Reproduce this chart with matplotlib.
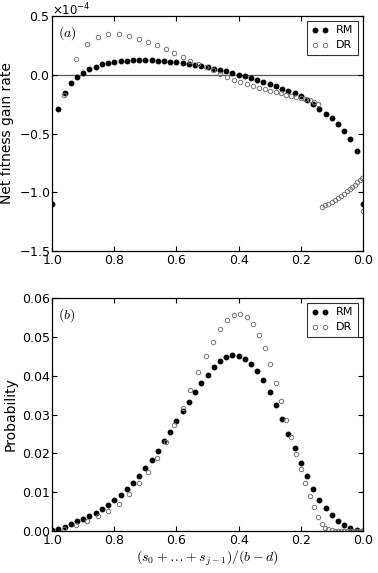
import numpy as np
import matplotlib
matplotlib.use('Agg')
import matplotlib.pyplot as plt
from matplotlib.ticker import ScalarFormatter, MultipleLocator

# ##############################################################################
# data
# RM: evenly spaced grid in (s_0+...+s_{j-1})/(b-d)
rm_x = [1.00, 0.98, 0.96, 0.94, 0.92, 0.90, 0.88, 0.86, 0.84, 0.82,
        0.80, 0.78, 0.76, 0.74, 0.72, 0.70, 0.68, 0.66, 0.64, 0.62,
        0.60, 0.58, 0.56, 0.54, 0.52, 0.50, 0.48, 0.46, 0.44, 0.42,
        0.40, 0.38, 0.36, 0.34, 0.32, 0.30, 0.28, 0.26, 0.24, 0.22,
        0.20, 0.18, 0.16, 0.14, 0.12, 0.10, 0.08, 0.06, 0.04, 0.02, 0.00]

# net fitness gain rate, units of 1e-4
rm_rate = [-1.10, -0.29, -0.152, -0.074, -0.020, 0.018, 0.046, 0.070, 0.088, 0.100,
           0.108, 0.114, 0.119, 0.122, 0.123, 0.123, 0.122, 0.120, 0.116, 0.112,
           0.106, 0.099, 0.091, 0.083, 0.073, 0.062, 0.051, 0.040, 0.028, 0.016,
           0.002, -0.013, -0.028, -0.045, -0.062, -0.079, -0.098, -0.117, -0.136, -0.157,
           -0.182, -0.212, -0.250, -0.290, -0.333, -0.370, -0.418, -0.475, -0.548, -0.649, -1.10]

rm_prob = [0.0002, 0.0005, 0.0011, 0.0018, 0.0025, 0.0031, 0.0039, 0.0047, 0.0056, 0.0066,
           0.0080, 0.0092, 0.0108, 0.0124, 0.0142, 0.0163, 0.0184, 0.0207, 0.0231, 0.0254,
           0.0282, 0.0308, 0.0333, 0.0358, 0.0381, 0.0403, 0.0422, 0.0437, 0.0447, 0.0452,
           0.0451, 0.0444, 0.0431, 0.0412, 0.0388, 0.0358, 0.0325, 0.0289, 0.0250, 0.0213,
           0.0175, 0.0141, 0.0108, 0.0081, 0.0058, 0.0040, 0.0025, 0.0015, 0.0008, 0.0003, 0.0001]

# DR: uneven grid
dr_x = [0.961, 0.924, 0.887, 0.853, 0.819, 0.785, 0.754, 0.721, 0.692, 0.663,
        0.635, 0.607, 0.580, 0.555, 0.530, 0.505, 0.481, 0.459, 0.436, 0.415,
        0.394, 0.374, 0.355, 0.334, 0.316, 0.298, 0.281, 0.265, 0.248, 0.232,
        0.216, 0.200, 0.185, 0.171, 0.158, 0.145,
        0.133, 0.122, 0.111, 0.100, 0.090, 0.080, 0.070, 0.061, 0.052, 0.043,
        0.034, 0.026, 0.018, 0.010, 0.002, 0.000]

dr_rate = [-0.17, 0.133, 0.265, 0.318, 0.343, 0.343, 0.326, 0.308, 0.278, 0.250,
           0.218, 0.189, 0.155, 0.121, 0.093, 0.065, 0.037, 0.005, -0.022, -0.042,
           -0.060, -0.079, -0.096, -0.110, -0.124, -0.135, -0.147, -0.158, -0.169, -0.178,
           -0.186, -0.195, -0.203, -0.212, -0.228, -0.250,
           -1.127, -1.112, -1.096, -1.080, -1.063, -1.046, -1.029, -1.011, -0.993, -0.974,
           -0.955, -0.936, -0.916, -0.896, -0.876, -1.16]

dr_prob = [0.0004, 0.0015, 0.0026, 0.0038, 0.0052, 0.0070, 0.0095, 0.0123, 0.0153, 0.0189,
           0.0229, 0.0273, 0.0317, 0.0364, 0.0409, 0.0451, 0.0488, 0.0519, 0.0543, 0.0557,
           0.0560, 0.0552, 0.0533, 0.0506, 0.0470, 0.0429, 0.0382, 0.0334, 0.0286, 0.0241,
           0.0198, 0.0159, 0.0124, 0.0091, 0.0062, 0.0035,
           0.0017, 0.0008, 0.0004, 0.0002, 0.0001, 0.0001, 0.0, 0.0, 0.0, 0.0,
           0.0, 0.0, 0.0, 0.0, 0.0, 0.0]

# ##############################################################################
plt.rcParams['font.family'] = 'DejaVu Sans'
plt.rcParams['font.size'] = 9
plt.rcParams['axes.unicode_minus'] = False
plt.rcParams['xtick.direction'] = 'in'
plt.rcParams['ytick.direction'] = 'in'
plt.rcParams['xtick.top'] = True
plt.rcParams['ytick.right'] = True
plt.rcParams['xtick.major.size'] = 3.5
plt.rcParams['ytick.major.size'] = 3.5
plt.rcParams['xtick.major.pad'] = 2.5
plt.rcParams['ytick.major.pad'] = 1.5
plt.rcParams['legend.numpoints'] = 2

fig = plt.figure(figsize=(3.78, 5.73), dpi=100)

rm_style = dict(linestyle='none', marker='o', markersize=3.2,
                markerfacecolor='black', markeredgecolor='black', label='RM')
dr_style = dict(linestyle='none', marker='o', markersize=3.2,
                markerfacecolor='none', markeredgecolor='#757575',
                markeredgewidth=0.7, label='DR')

def styleAxes(ax, tag):
    ax.set_xlim(1.0, 0.0)
    ax.xaxis.set_major_locator(MultipleLocator(0.2))
    ax.text(0.018, 0.965, tag, transform=ax.transAxes, ha='left', va='top',
            fontsize=10, math_fontfamily='cm')
    leg = ax.legend(loc='upper right', fontsize=8, fancybox=False,
                    handlelength=1.5, borderpad=0.4, labelspacing=0.45,
                    handletextpad=0.7, borderaxespad=0.45)
    leg.get_frame().set_edgecolor('black')
    leg.get_frame().set_linewidth(0.8)
    for s in ax.spines.values():
        s.set_linewidth(0.9)

# top panel ####################################################################
ax1 = fig.add_axes([0.138, 0.562, 0.822, 0.410])
ax1.axhline(0.0, color='#555555', linewidth=0.9, zorder=1)
ax1.plot(rm_x, np.array(rm_rate) * 1e-4, **rm_style)
ax1.plot(dr_x, np.array(dr_rate) * 1e-4, **dr_style)
ax1.set_ylim(-1.5e-4, 0.5e-4)
ax1.yaxis.set_major_locator(MultipleLocator(0.5e-4))
fmt = ScalarFormatter(useMathText=True)
fmt.set_powerlimits((-3, 3))
ax1.yaxis.set_major_formatter(fmt)
ax1.yaxis.OFFSETTEXTPAD = 0.5
ax1.yaxis.get_offset_text().set_fontsize(8.5)
ax1.set_ylabel('Net fitness gain rate', fontsize=10, labelpad=3)
styleAxes(ax1, '$(a)$')

# bottom panel #################################################################
ax2 = fig.add_axes([0.138, 0.0733, 0.822, 0.4066])
ax2.plot(rm_x, rm_prob, **rm_style)
ax2.plot(dr_x, dr_prob, **dr_style)
ax2.set_ylim(0.0, 0.06)
ax2.yaxis.set_major_locator(MultipleLocator(0.01))
ax2.yaxis.set_major_formatter(plt.FormatStrFormatter('%.2f'))
ax2.set_ylabel('Probability', fontsize=10, labelpad=3)
ax2.set_xlabel(r'$(s_0+\ldots+s_{j-1})/(b-d)$', fontsize=10,
               math_fontfamily='cm', labelpad=1)
styleAxes(ax2, '$(b)$')

plt.savefig('out.png', dpi=100)
